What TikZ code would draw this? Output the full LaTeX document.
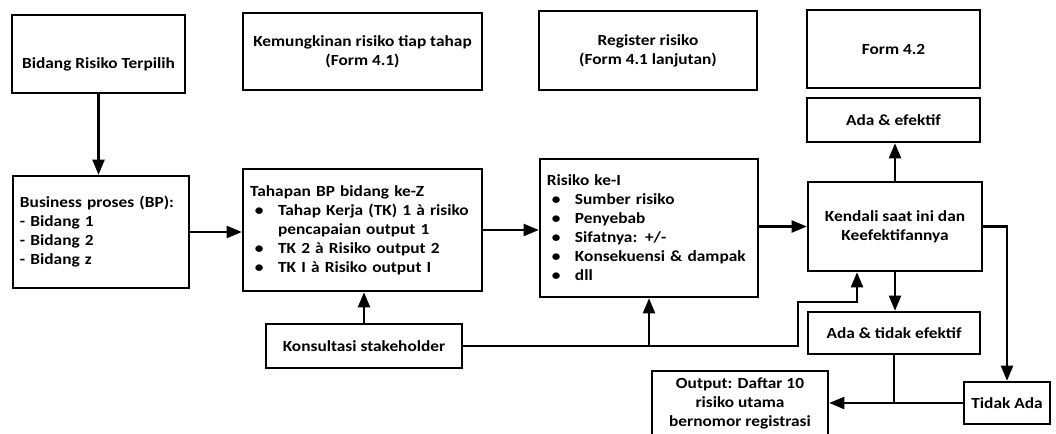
\documentclass[tikz,border=0pt]{standalone}
\usepackage{fontspec}
\setmainfont{Carlito}[FakeStretch=1.12]
\usepackage{tikz}
\usetikzlibrary{arrows.meta}
\tikzset{
	box/.style={draw, line width=1.7pt, font=\fontsize{11}{13.5}\selectfont\bfseries, align=center, inner sep=5pt}
}
\tikzset{
	listbox/.style={box, align=left, inner xsep=5pt}
}
\tikzset{
	arr/.style={line width=1.7pt, -{Triangle[length=0.38cm, width=0.3cm]}}
}
\newcommand{\itm}[1]{\makebox[0.7cm][l]{\hspace{0.12cm}\textbullet}\mbox{#1}}

\begin{document}
\begin{tikzpicture}[x=0.025cm, y=-0.025cm]
      \useasboundingbox (0,0) rectangle (1056,433);
      \clip (0,0) rectangle (1056,433);
      \node[box, minimum width=4.325cm, minimum height=1.95cm] (pilih) at (98.5,54) {\raisebox{-0.27cm}[\height][\depth]{Bidang Risiko Terpilih}};
      \node[box, minimum width=5.975cm, minimum height=1.925cm] (form41) at (362.5,51.5) {Kemungkinan risiko tiap tahap\\(Form 4.1)};
      \node[box, minimum width=5.45cm, minimum height=1.975cm] (register) at (648,50.5) {Register risiko\\(Form 4.1 lanjutan)};
      \node[box, minimum width=4.325cm, minimum height=1.95cm] (form42) at (893.5,49) {Form 4.2};
      \node[box, minimum width=4.325cm, minimum height=1.1cm] (efektif) at (893.5,120) {Ada \& efektif};
      \node[listbox, text width=4.05cm, minimum height=2.8cm] (bp) at (101,232) {Business proses (BP):\\- Bidang 1\\- Bidang 2\\- Bidang z};
      \node[listbox, text width=5.62cm, minimum height=3.05cm] (tahap) at (362.5,230) {Tahapan BP bidang ke-Z\\\itm{Tahap Kerja (TK) 1 à risiko}\\\hspace*{0.7cm}pencapaian output 1\\\itm{TK 2 à Risiko output 2}\\\itm{TK I à Risiko output I}};
      \node[listbox, text width=5.1cm, minimum height=3.45cm] (risiko) at (649,228) {Risiko ke-I\\\itm{Sumber risiko}\\\itm{Penyebab}\\\itm{Sifatnya: +/-}\\\itm{Konsekuensi \& dampak}\\\itm{dll}};
      \node[box, minimum width=4.35cm, minimum height=2.225cm] (kendali) at (895,226.5) {Kendali saat ini dan\\Keefektifannya};
      \node[box, minimum width=4.3cm, minimum height=1.05cm] (tidakefektif) at (894,333) {Ada \& tidak efektif};
      \node[box, minimum width=4.9cm, minimum height=1.1cm] (konsultasi) at (364,346) {Konsultasi stakeholder};
      \node[box, minimum width=4.4cm, minimum height=1.6cm, inner sep=2pt] (output) at (740,403) {Output: Daftar 10\\risiko utama\\bernomor registrasi};
      \node[box, minimum width=2.15cm, minimum height=1.05cm, inner sep=2pt] (tidakada) at (1007,403) {Tidak Ada};
      \coordinate (bend) at (798,302);
      \draw[arr] (pilih.south) -- (pilih.south |- bp.north);
      \draw[arr] (bp.east) -- (bp.east -| tahap.west);
      \draw[arr] (tahap.east) -- (tahap.east -| risiko.west);
      \draw[arr] (kendali.west -| risiko.east) -- (kendali.west);
      \draw[arr] (kendali.north) -- (kendali.north |- efektif.south);
      \draw[arr] (kendali.south) -- (kendali.south |- tidakefektif.north);
      \draw[arr] (kendali.east) -| (tidakada.north);
      \draw[arr] (konsultasi.north) -- (konsultasi.north |- tahap.south);
      \draw[arr] (konsultasi.east) -| (bend) -| ([xshift=-0.95cm]kendali.south);
      \draw[arr] (konsultasi.east -| risiko.south) -- (risiko.south);
      \draw[arr] (tidakefektif.south) |- (output.east);
      \draw[line width=1.7pt] (tidakada.west) -- (tidakada.west -| tidakefektif.south);
    \end{tikzpicture}
\end{document}
